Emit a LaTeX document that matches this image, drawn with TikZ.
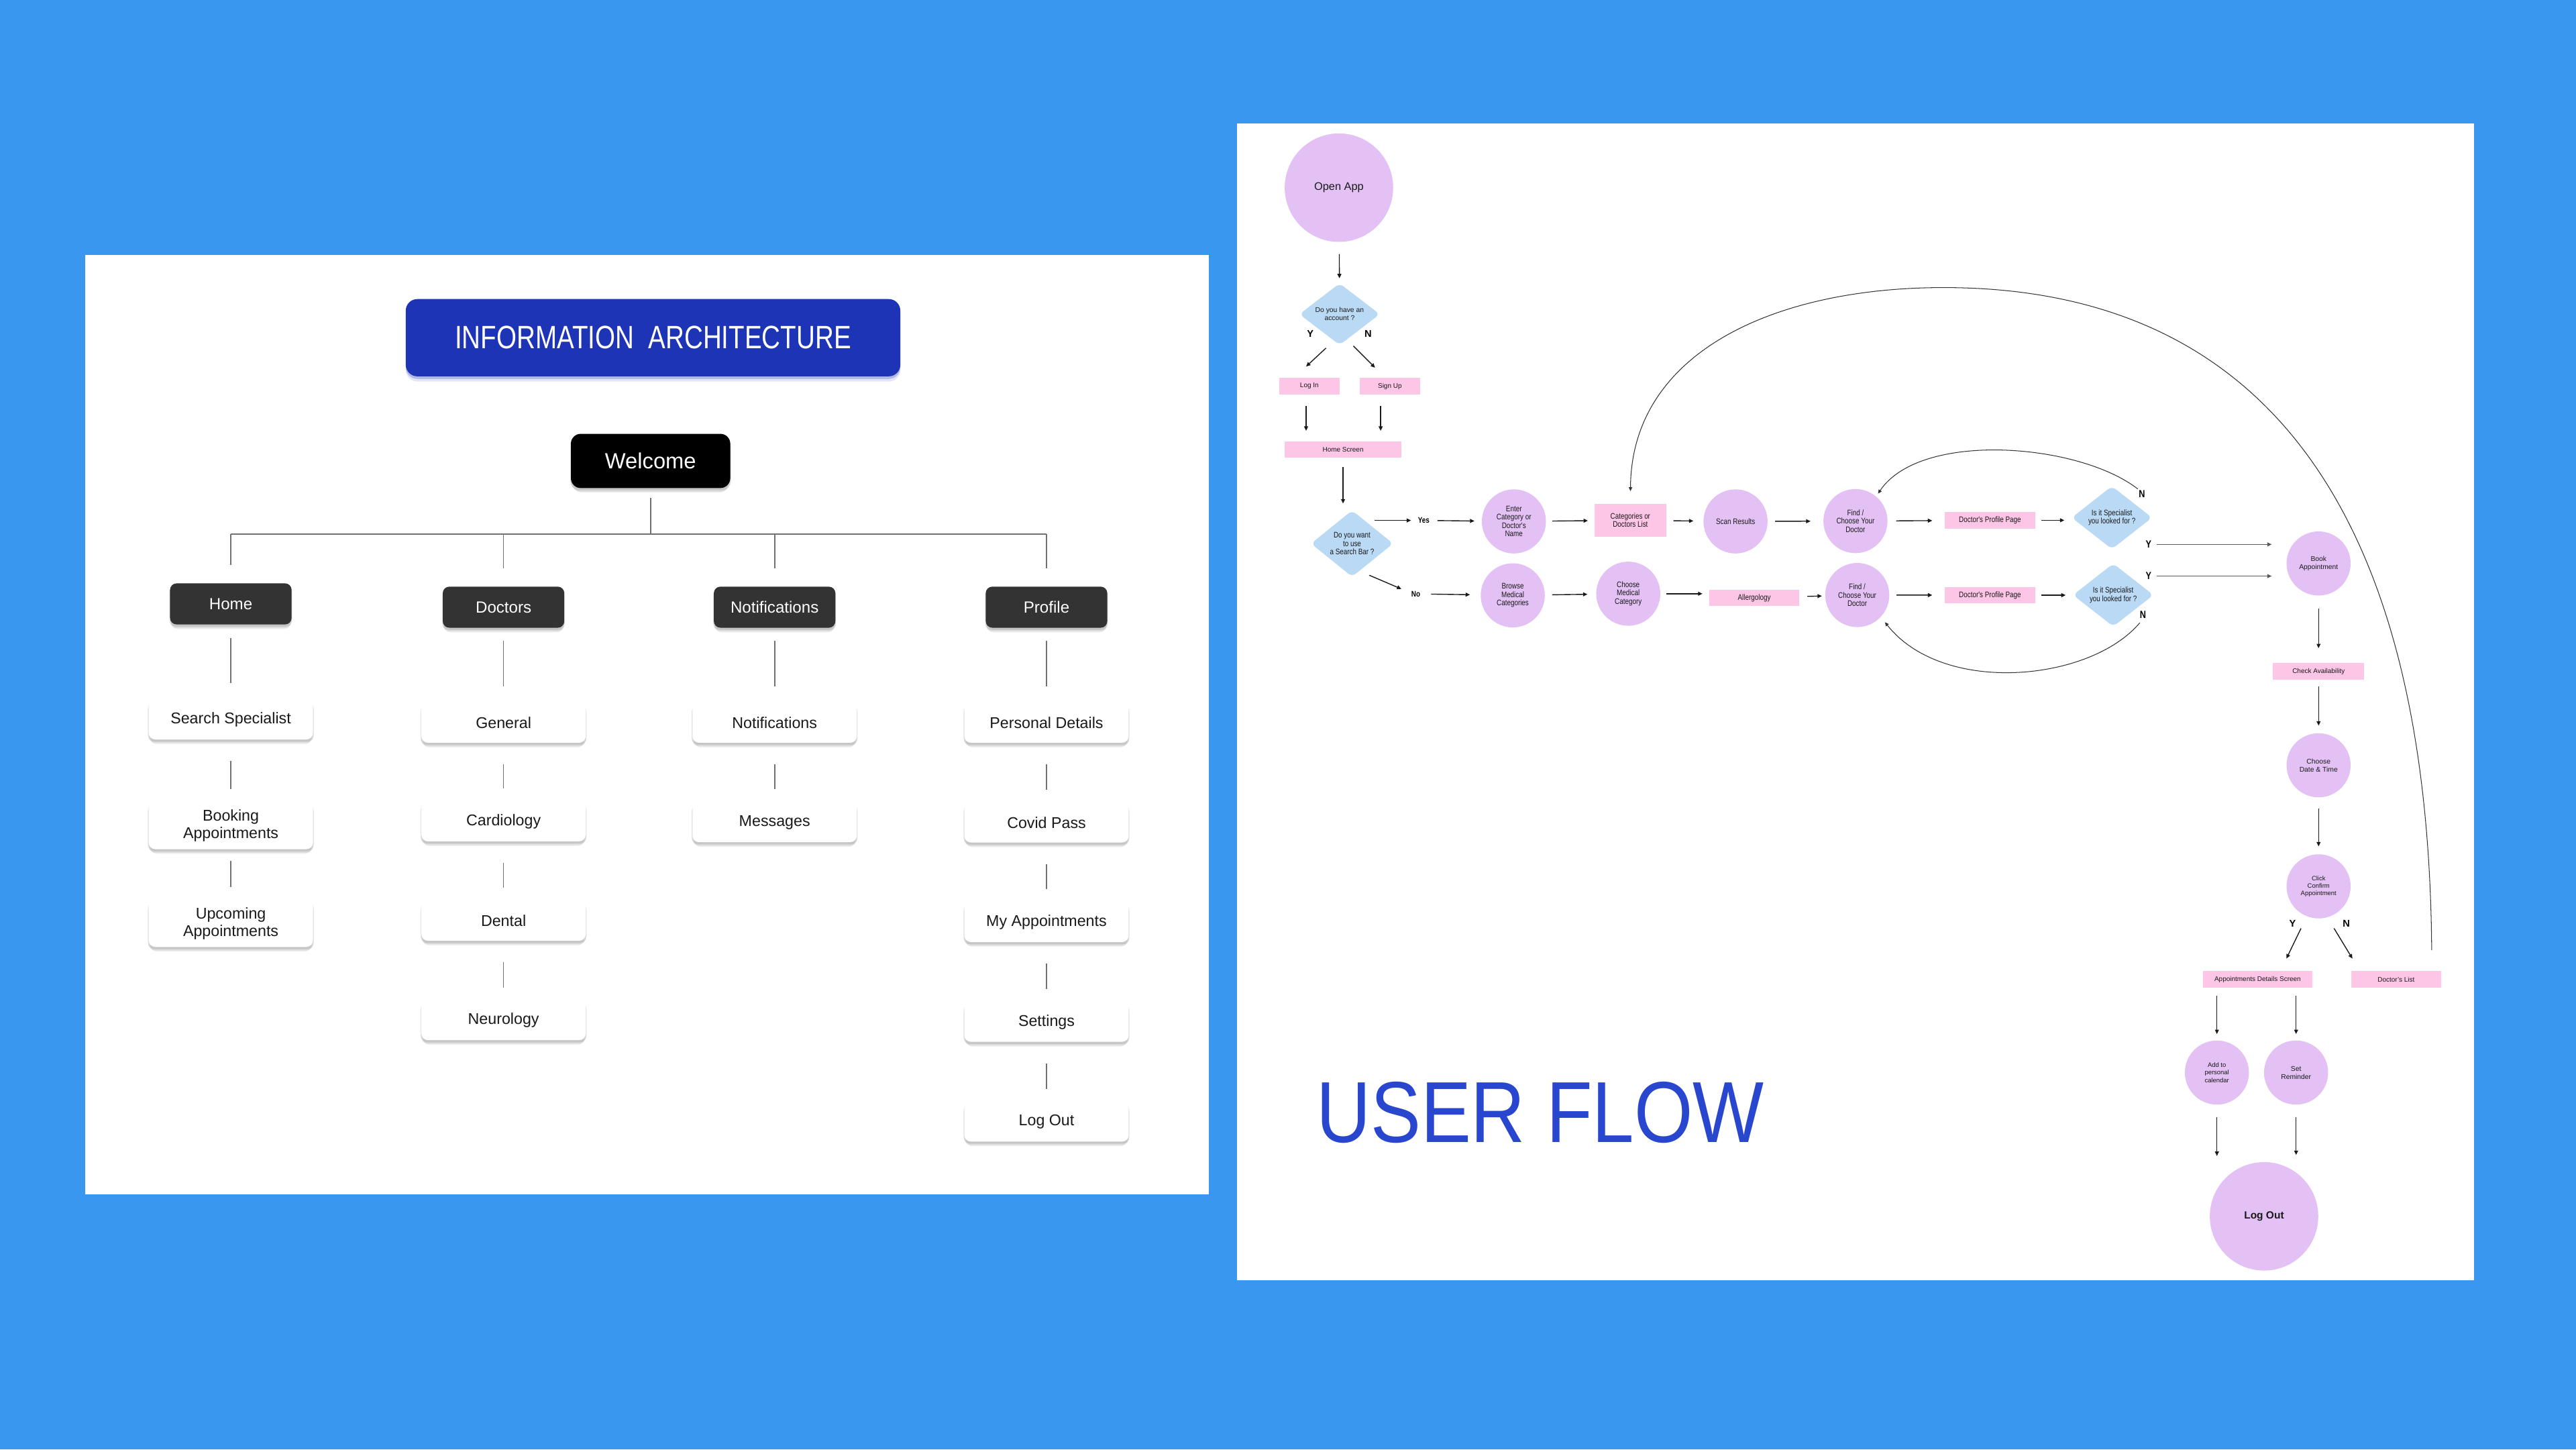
\documentclass[tikz,border=0pt]{standalone}
\usepackage{fontspec}
\setmainfont{Liberation Sans}
\newfontfamily\condfont[FakeStretch=0.82]{Liberation Sans}
\newfontfamily\titlefont[FakeStretch=0.8]{Liberation Sans}
\newfontfamily\flowfont[FakeStretch=0.87]{Liberation Sans}
\usetikzlibrary{shapes,arrows,arrows.meta,positioning,shadows,calc}

\definecolor{bgblue}{HTML}{3A97EF}
\definecolor{titleblue}{HTML}{1E34B7}
\definecolor{headgray}{HTML}{333333}
\definecolor{linegray}{HTML}{707070}
\definecolor{lavender}{HTML}{E4C1F4}
\definecolor{pinkbox}{HTML}{FDC5E6}
\definecolor{skyblue}{HTML}{BAD9F5}
\definecolor{flowblue}{HTML}{2946CF}

\tikzset{
  iashadow/.style={
    drop shadow={shadow xshift=0mm,shadow yshift=-1.6mm,shadow scale=0.98,opacity=0.06,fill=black},
    drop shadow={shadow xshift=0mm,shadow yshift=-1.1mm,opacity=0.08,fill=black},
    drop shadow={shadow xshift=0mm,shadow yshift=-0.6mm,shadow scale=1.01,opacity=0.1,fill=black}},
  iatitle/.style={rounded corners=3.5mm,fill=titleblue,text=white,minimum width=150.5mm,minimum height=23.5mm,
    font=\titlefont\fontsize{28}{30}\selectfont,
    drop shadow={shadow xshift=0mm,shadow yshift=-1.6mm,opacity=0.12,fill=titleblue},
    drop shadow={shadow xshift=0mm,shadow yshift=-0.8mm,opacity=0.25,fill=titleblue}},
  iawelcome/.style={rounded corners=3mm,fill=black,text=white,minimum width=48.5mm,minimum height=16.5mm,font=\fontsize{19}{21}\selectfont,iashadow},
  iahead/.style={rounded corners=2mm,fill=headgray,text=white,minimum width=37mm,minimum height=12.5mm,font=\fontsize{14}{16}\selectfont,iashadow},
  iabox/.style={rounded corners=2mm,fill=white,text=black!90,minimum width=50mm,minimum height=12mm,align=center,font=\fontsize{13.5}{15}\selectfont,iashadow},
  iatall/.style={iabox,minimum height=14.25mm},
  busline/.style={draw=linegray,line width=1pt},
  iaedge/.style={busline,shorten <=6.5mm,shorten >=4mm},
  headedge/.style={busline,shorten <=4mm,shorten >=5mm},
  flowarrow/.style={draw=black!90,line width=0.8pt,-{Triangle[length=3.8pt,width=3.4pt]}},
  hop/.style={flowarrow,shorten <=2.2mm,shorten >=2.6mm},
  loopline/.style={draw=black!80,line width=0.6pt,-{Triangle[length=3.4pt,width=3pt]}},
  condtext/.style={font=\condfont\fontsize{7}{7.2}\selectfont},
  stepcirc/.style={circle,fill=lavender,minimum size=19.5mm,inner sep=0pt,align=center,text=black!90,font=\fontsize{6}{7}\selectfont},
  condcirc/.style={stepcirc,condtext},
  bigcirc/.style={circle,fill=lavender,minimum size=33mm,inner sep=0pt,text=black!90,font=\fontsize{9.5}{11}\selectfont},
  screen/.style={rectangle,fill=pinkbox,minimum height=5mm,inner sep=0pt,align=center,text=black!90,font=\fontsize{5.8}{6.8}\selectfont},
  condscreen/.style={screen,condtext},
  decision/.style={diamond,fill=skyblue,rounded corners=1.5mm,inner sep=0pt,align=center,minimum width=24.5mm,minimum height=18.75mm,
    text=black!90,font=\fontsize{6}{7}\selectfont},
  conddecision/.style={decision,condtext},
  yn/.style={inner sep=0.7pt,font=\bfseries\fontsize{8.5}{9}\selectfont},
  ynbig/.style={inner sep=0.7pt,font=\condfont\bfseries\fontsize{9}{9}\selectfont},
  ynword/.style={inner sep=0.7pt,font=\condfont\bfseries\fontsize{7}{7}\selectfont},
}

\begin{document}
\begin{tikzpicture}[x=0.5mm,y=-0.5mm]
\useasboundingbox (0,0) rectangle (1568,882);
\fill[bgblue] (0,0) rectangle (1568,882);
\fill[white] (52,155) rectangle (736,727);
\fill[white] (753,75) rectangle (1506,779);

% information architecture
\node[iatitle] (iatitle) at (397.5,205.5) {INFORMATION\ \ ARCHITECTURE};
\node[iawelcome] (welcome) at (396,280.5) {Welcome};
\node[iahead] (home) at (140.5,367.5) {Home};
\node[iahead] (doctors) at (306.5,369.5) {Doctors};
\node[iahead] (notif) at (471.5,369.5) {Notifications};
\node[iahead] (profile) at (637,369.5) {Profile};

\node[iabox] (srch) at (140.5,438) {Search Specialist};
\node[iatall] (booking) at (140.5,502.5) {Booking\\Appointments};
\node[iatall] (upcoming) at (140.5,562) {Upcoming\\Appointments};
\node[iabox] (general) at (306.5,440) {General};
\node[iabox] (cardio) at (306.5,500) {Cardiology};
\node[iabox] (dental) at (306.5,560.5) {Dental};
\node[iabox] (neuro) at (306.5,621) {Neurology};
\node[iabox] (notifs) at (471.5,440) {Notifications};
\node[iabox] (msgs) at (471.5,500.5) {Messages};
\node[iabox] (personal) at (637,440) {Personal Details};
\node[iabox] (covid) at (637,500.7) {Covid Pass};
\node[iabox] (myappt) at (637,561.3) {My Appointments};
\node[iabox] (settings) at (637,622) {Settings};
\node[iabox] (logoff) at (637,682.7) {Log Out};

\coordinate (busL) at (140.5,325);
\coordinate (busR) at (637,325);
\draw[busline] (busL) -- (busR);
\draw[busline,shorten <=3mm] (welcome) -- (welcome |- busL);
\foreach \n in {home,doctors,notif,profile}
  \draw[busline,shorten >=5.5mm] (\n |- busL) -- (\n);
\draw[headedge] (home) -- (srch);
\draw[headedge] (doctors) -- (general);
\draw[headedge] (notif) -- (notifs);
\draw[headedge] (profile) -- (personal);
\draw[iaedge] (srch) -- (booking);
\draw[iaedge,shorten <=3.5mm] (booking) -- (upcoming);
\draw[iaedge] (general) -- (cardio);
\draw[iaedge] (cardio) -- (dental);
\draw[iaedge] (dental) -- (neuro);
\draw[iaedge] (notifs) -- (msgs);
\draw[iaedge] (personal) -- (covid);
\draw[iaedge] (covid) -- (myappt);
\draw[iaedge] (myappt) -- (settings);
\draw[iaedge] (settings) -- (logoff);

% user flow
\node[bigcirc] (open) at (815,114.2) {Open App};
\node[decision] (ask) at (815.4,191.2) {Do you have an\\account ?};
\node[yn] (askY) at (797.6,203) {Y};
\node[yn] (askN) at (832.7,203) {N};
\node[screen,minimum width=18.5mm] (login) at (797,235) {Log In};
\node[screen,minimum width=18.5mm] (signup) at (846,235) {Sign Up};
\node[screen,minimum width=35.5mm] (homescr) at (817.5,273.5) {Home Screen};

\node[conddecision,minimum width=25mm,minimum height=18.5mm] (search) at (823,330.8) {Do you want\\to use\\a Search Bar ?};
\node[ynword] (yes) at (866.6,316.7) {Yes};
\node[ynword] (no) at (861.8,361.4) {No};
\node[condcirc] (enter) at (921.5,317.3) {Enter\\Category or\\Doctor's\\Name};
\node[condscreen,minimum width=21.7mm,minimum height=10mm] (cats) at (992.4,316.6) {Categories or\\Doctors List};
\node[condcirc] (scan) at (1056.4,317.3) {Scan Results};
\node[condcirc] (find1) at (1129.4,317.1) {Find /\\Choose Your\\Doctor};
\node[condscreen,minimum width=27.5mm] (prof1) at (1211.3,316.6) {Doctor's Profile Page};
\node[conddecision,minimum height=18.7mm] (spec1) at (1285.5,315) {Is it Specialist\\you looked for ?};
\node[ynbig] (spec1N) at (1303.8,300.4) {N};
\node[ynbig] (spec1Y) at (1307.8,331.3) {Y};

\node[condcirc] (browse) at (920.8,362.3) {Browse\\Medical\\Categories};
\node[condcirc] (choose) at (991.1,361.3) {Choose\\Medical\\Category};
\node[condscreen,minimum width=27.5mm] (allergo) at (1067.8,363.8) {Allergology};
\node[condcirc] (find2) at (1130.5,362.1) {Find /\\Choose Your\\Doctor};
\node[condscreen,minimum width=27.5mm] (prof2) at (1211.3,362.2) {Doctor's Profile Page};
\node[conddecision,minimum height=18.5mm] (spec2) at (1286.3,362.1) {Is it Specialist\\you looked for ?};
\node[ynbig] (spec2Y) at (1307.8,350.6) {Y};
\node[ynbig] (spec2N) at (1304.4,373.9) {N};

\node[stepcirc] (book) at (1411.3,342.9) {Book\\Appointment};
\node[screen,minimum width=27.7mm] (check) at (1411.3,408.5) {Check Availability};
\node[stepcirc] (date) at (1411.3,465.7) {Choose\\Date \& Time};
\node[stepcirc,font=\fontsize{5.5}{6.5}\selectfont] (confirm) at (1411.3,539.4) {Click\\Confirm\\Appointment};
\node[yn] (confY) at (1395.5,562.1) {Y};
\node[yn] (confN) at (1428.2,562.1) {N};
\node[screen,minimum width=33.2mm] (details) at (1374.2,596) {Appointments Details Screen};
\node[screen,minimum width=27.5mm] (doclist) at (1458.5,596) {Doctor's List};
\node[stepcirc,font=\fontsize{5.5}{6.5}\selectfont] (calendar) at (1349.4,652.7) {Add to\\personal\\calendar};
\node[stepcirc] (remind) at (1397.6,652.7) {Set\\Reminder};
\node[bigcirc,font=\bfseries\fontsize{9}{11}\selectfont] (logout) at (1378.1,740.2) {Log Out};

\node[anchor=base west,inner sep=0pt,text=flowblue,font=\flowfont\fontsize{75}{80}\selectfont] (uftitle) at (801,695) {USER FLOW};

\draw[flowarrow,shorten <=3.65mm,shorten >=1.5mm] (open) -- (ask);
\draw[flowarrow] ([shift={(-8.3,1.7)}]ask.south) -- ([shift={(-2,-6.8)}]login.north);
\draw[flowarrow] ([shift={(8.4,0.4)}]ask.south) -- ([shift={(-9,-6.1)}]signup.north);
\draw[flowarrow,shorten <=3.5mm,shorten >=3.1mm] ($(login.south)+(-2,0)$) -- ($(login.south |- homescr.north)+(-2,0)$);
\draw[flowarrow,shorten <=3.5mm,shorten >=3.1mm] ($(signup.south)+(-5.6,0)$) -- ($(signup.south |- homescr.north)+(-5.6,0)$);
\draw[flowarrow,shorten <=2.7mm,shorten >=2mm] (homescr.south) -- (homescr.south |- search.north);

\draw[flowarrow,shorten <=0.5mm,shorten >=1.8mm] (search.north east |- yes) -- (yes);
\draw[hop,shorten <=2.15mm,shorten >=2.2mm] (yes) -- (enter);
\draw[flowarrow] ([shift={(10.5,-1.1)}]search.south) -- ([shift={(-8.8,-3)}]no.center);
\draw[hop,shorten <=3mm,shorten >=3.2mm] (no) -- (browse);
\draw[hop,shorten <=1.9mm,shorten >=2mm] (enter) -- (cats);
\draw[hop,shorten >=3mm] (cats) -- (scan);
\draw[hop,shorten >=3.85mm] (scan) -- (find1);
\draw[hop,shorten <=2.6mm,shorten >=3.75mm] (find1) -- (prof1);
\draw[hop,shorten <=1.85mm,shorten >=2.15mm] (prof1) -- (prof1 -| spec1.west);
\draw[hop] (browse) -- (choose);
\draw[hop,shorten <=1.75mm,shorten >=1.95mm] (choose) -- (choose -| allergo.west);
\draw[hop,shorten <=2.35mm,shorten >=0.95mm] (allergo) -- (find2);
\draw[hop,shorten <=2.15mm,shorten >=3.75mm] (find2) -- (prof2);
\draw[hop,shorten <=1.85mm,shorten >=2.15mm] (prof2) -- (prof2 -| spec2.west);
\draw[flowarrow,draw=black!65,shorten <=1.4mm,shorten >=4.45mm] (spec1Y) -- (spec1Y -| book.west);
\draw[flowarrow,draw=black!65,shorten <=1.4mm,shorten >=4.45mm] (spec2Y) -- (spec2Y -| book.west);

\draw[loopline,shorten >=1mm] (spec1N.north west) .. controls ($(spec1N.north west)+(-36,-28)$) and ($(find1.50)+(27,-40)$) .. (find1.50);
\draw[loopline,shorten <=1.5mm,shorten >=2mm] (spec2N.south) .. controls ($(spec2N.south)+(-32,38)$) and ($(find2.-43)+(38,48)$) .. (find2.-43);
\draw[loopline,shorten >=3.8mm] ($(doclist.north east)+(-6,-12.6)$) .. controls ($(doclist.north east)+(-8,-291)$) and (1370,175) .. (1183,175)
  .. controls (1080,175) and ($(cats.north)+(0.6,-92)$) .. (cats.north);

\draw[flowarrow,shorten <=3.9mm,shorten >=4.45mm] (book) -- (check);
\draw[flowarrow,shorten <=2.1mm,shorten >=2.25mm] (check) -- (date);
\draw[flowarrow,shorten <=3.35mm,shorten >=2.35mm] (date) -- (confirm);
\draw[flowarrow] ([shift={(-10.7,5.9)}]confirm.south) -- ([shift={(17.5,-7.5)}]details.north);
\draw[flowarrow] ([shift={(9.4,5.9)}]confirm.south) -- ([shift={(-26.6,-7.5)}]doclist.north);
\draw[flowarrow,shorten <=2.35mm,shorten >=1.9mm] (details.south -| calendar) -- (calendar);
\draw[flowarrow,shorten <=2.35mm,shorten >=1.9mm] (details.south -| remind) -- (remind);
\draw[flowarrow,shorten <=3.7mm,shorten >=1.8mm] (calendar) -- (calendar |- logout.north);
\draw[flowarrow,shorten <=3.7mm,shorten >=2.1mm] (remind) -- (remind |- logout.north);
\end{tikzpicture}
\end{document}
